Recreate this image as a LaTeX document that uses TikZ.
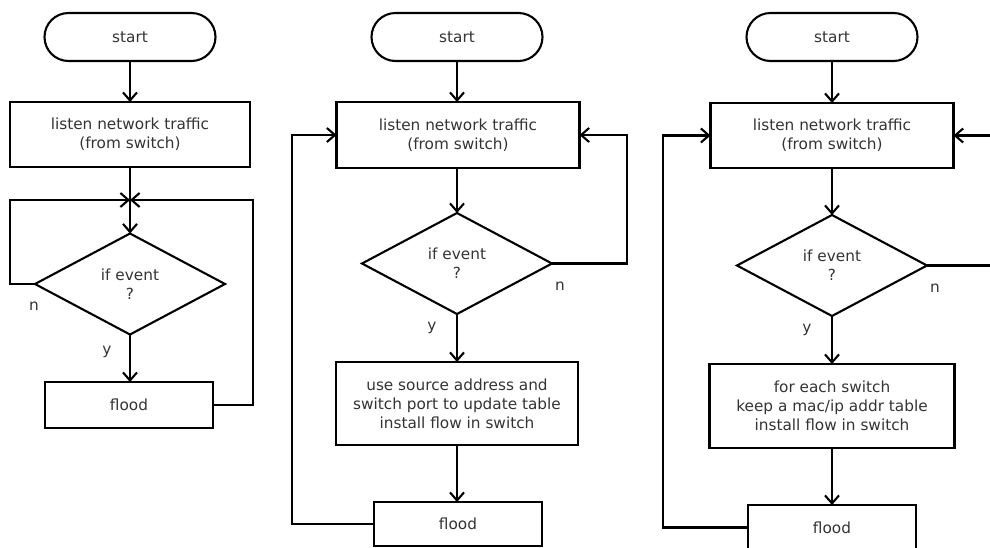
\documentclass[tikz,border=0pt]{standalone}
\usepackage{fontspec}
\setmainfont{DejaVu Sans}
\usetikzlibrary{shapes.geometric,arrows.meta}
\tikzset{
  base/.style={draw=black, line width=2.1pt, outer sep=0pt, inner sep=0pt, align=center,
    text=black!80, font=\fontsize{15.3}{19}\selectfont},
  term/.style={base, rounded corners=24pt, minimum width=171pt, minimum height=48pt},
  proc/.style={base, rectangle},
  dec/.style={base, diamond, minimum width=190pt, minimum height=101pt, aspect=1.88},
  lbl/.style={text=black!80, font=\fontsize{15.3}{19}\selectfont, inner sep=0pt},
  arr/.style={line width=2.1pt, -{Straight Barb[length=8pt,width=14pt]}},
  ln/.style={line width=2.1pt},
}
\begin{document}
\begin{tikzpicture}[x=1pt,y=-1pt]
\useasboundingbox (0,0) rectangle (990,547);
% ---------- panel 1 ----------
\node[term] (s1) at (130,37) {start};
\node[proc, minimum width=240pt, minimum height=65pt] (l1) at (130,134.5) {listen network traffic\\(from switch)};
\coordinate (j1) at (130,200);
\node[dec] (d1) at (130,284) {if event\\?};
\node[proc, minimum width=168pt, minimum height=46pt] (f1) at (129,405) {flood};
\draw[arr] (s1) -- (l1);
\draw[arr] (l1) -- (d1);
\draw[arr] (d1) -- (f1.north -| d1.south);
\draw[arr] (d1.west) -- ++(-25,0) |- (j1);
\draw[arr] (f1.east) -- ++(40,0) |- (j1);
\node[lbl] (n1) at (34,306) {n};
\node[lbl] (y1) at (107,352) {y};
% ---------- panel 2 ----------
\node[term] (s2) at (457,37) {start};
\node[proc, minimum width=243pt, minimum height=66pt] (l2) at (458,135) {listen network traffic\\(from switch)};
\node[dec] (d2) at (457,263.5) {if event\\?};
\node[proc, minimum width=242pt, minimum height=83pt] (b2) at (457,403.5) {use source address and\\switch port to update table\\install flow in switch};
\node[proc, minimum width=168pt, minimum height=44pt] (f2) at (458,524) {flood};
\draw[arr] (s2) -- (s2 |- l2.north);
\draw[arr] (l2.south -| d2.north) -- (d2);
\draw[arr] (d2) -- (b2.north -| d2.south);
\draw[arr] (b2.south -| d2.south) -- (f2.north -| d2.south);
\draw[arr] (f2.west) -- ++(-82,0) |- (l2.west);
\draw[arr] (d2.east) -- ++(75,0) |- (l2.east);
\node[lbl] (n2) at (560,286) {n};
\node[lbl] (y2) at (432,328) {y};
% ---------- panel 3 ----------
\node[term] (s3) at (832,37) {start};
\node[proc, minimum width=243pt, minimum height=65pt] (l3) at (832,135.5) {listen network traffic\\(from switch)};
\node[dec] (d3) at (832,265.5) {if event\\?};
\node[proc, minimum width=245pt, minimum height=84pt] (b3) at (832,406) {for each switch\\keep a mac/ip addr table\\install flow in switch};
\node[proc, minimum width=168pt, minimum height=45pt] (f3) at (832,527.5) {flood};
\coordinate (r3a) at (1000,265.5);
\coordinate (r3b) at (1000,135.5);
\draw[arr] (s3) -- (s3 |- l3.north);
\draw[arr] (l3.south -| d3.north) -- (d3);
\draw[arr] (d3) -- (b3.north -| d3.south);
\draw[arr] (b3.south -| d3.south) -- (f3.north -| d3.south);
\draw[arr] (f3.west) -- ++(-85,0) |- (l3.west);
\draw[ln] (d3.east) -- (r3a);
\draw[arr] (r3b) -- (l3.east);
\node[lbl] (n3) at (935,288) {n};
\node[lbl] (y3) at (807,330) {y};
\end{tikzpicture}
\end{document}
